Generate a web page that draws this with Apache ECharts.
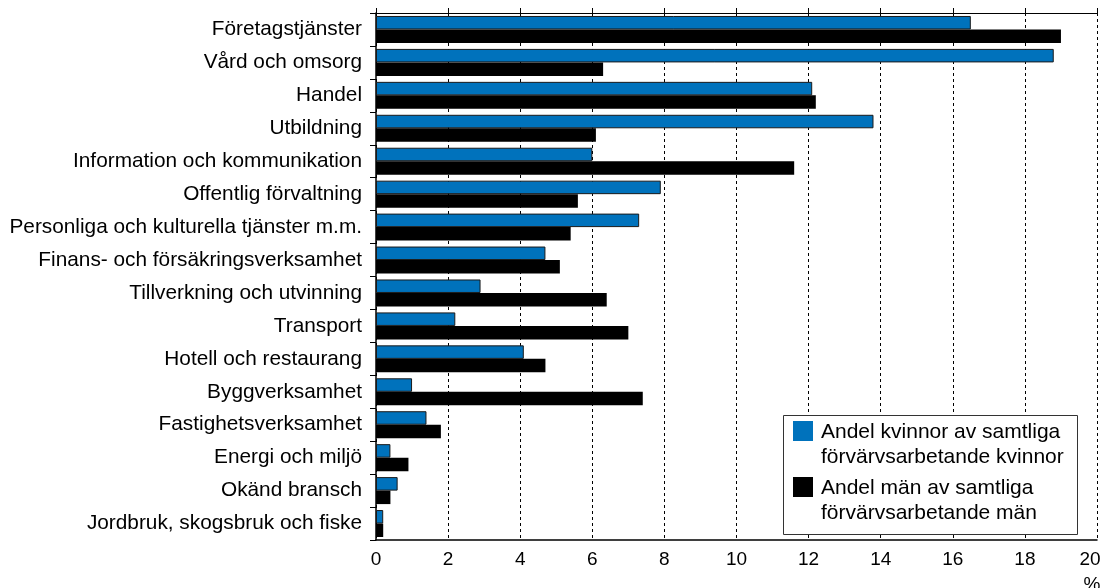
<!DOCTYPE html>
<html>
<head>
<meta charset="utf-8">
<script src="https://cdn.jsdelivr.net/npm/echarts@6/dist/echarts.min.js"></script>
<style>
  html, body { margin: 0; padding: 0; background: #fff; }
  #chart { width: 1104px; height: 588px; }
</style>
</head>
<body>
<div id="chart"></div>
<script>
// Branscher, ordnade uppifrån och ned
const categories = [
  'Företagstjänster',
  'Vård och omsorg',
  'Handel',
  'Utbildning',
  'Information och kommunikation',
  'Offentlig förvaltning',
  'Personliga och kulturella tjänster m.m.',
  'Finans- och försäkringsverksamhet',
  'Tillverkning och utvinning',
  'Transport',
  'Hotell och restaurang',
  'Byggverksamhet',
  'Fastighetsverksamhet',
  'Energi och miljö',
  'Okänd bransch',
  'Jordbruk, skogsbruk och fiske'
];

// Andel (%) av samtliga förvärvsarbetande kvinnor respektive män
const women = [16.5, 18.8, 12.1, 13.8, 6.0, 7.9, 7.3, 4.7, 2.9, 2.2, 4.1, 1.0, 1.4, 0.4, 0.6, 0.2];
const men   = [19.0, 6.3, 12.2, 6.1, 11.6, 5.6, 5.4, 5.1, 6.4, 7.0, 4.7, 7.4, 1.8, 0.9, 0.4, 0.2];

const seriesNames = [
  ['Andel kvinnor av samtliga', 'förvärvsarbetande kvinnor'],
  ['Andel män av samtliga', 'förvärvsarbetande män']
];
const axisUnit = '%';
const axisMax = 20;

const BLUE = '#0072bc';
const FONT = 'Liberation Sans, Arial, sans-serif';
const LABEL_SIZE = 20.8;
const LEGEND_SIZE = 21;

const chart = echarts.init(document.getElementById('chart'));

// Legend box drawn as graphic elements so each two-line entry sits beside its swatch
const legendGraphic = [
  { type: 'rect', shape: { x: 783.5, y: 415.5, width: 294, height: 119 },
    style: { fill: '#fff', stroke: '#333', lineWidth: 1 }, z: 100 },
  { type: 'rect', shape: { x: 793, y: 421, width: 20, height: 20 },
    style: { fill: BLUE }, z: 101 },
  { type: 'text', x: 821, y: 420,
    style: { text: seriesNames[0].join('\n'), fill: '#000', font: LEGEND_SIZE + 'px ' + FONT, lineHeight: 25 }, z: 101 },
  { type: 'rect', shape: { x: 793, y: 477, width: 20, height: 20 },
    style: { fill: '#000' }, z: 101 },
  { type: 'text', x: 821, y: 476,
    style: { text: seriesNames[1].join('\n'), fill: '#000', font: LEGEND_SIZE + 'px ' + FONT, lineHeight: 25 }, z: 101 },
  { type: 'text', x: 1092, y: 575,
    style: { text: axisUnit, fill: '#000', font: '19px ' + FONT, align: 'center' }, z: 101 }
];

chart.setOption({
  animation: false,
  backgroundColor: '#fff',
  textStyle: { fontFamily: FONT },
  grid: { left: 376, right: 7, top: 13, bottom: 48, containLabel: false, outerBoundsMode: 'none' },
  xAxis: [
    {
      type: 'value', position: 'bottom', min: 0, max: axisMax, interval: 2,
      axisLine: { show: true, lineStyle: { color: '#000', width: 1.5 } },
      axisTick: { show: false },
      axisLabel: {
        color: '#000', fontSize: 19, margin: 10, fontFamily: FONT,
        // keep the last label inside the canvas
        formatter: v => v === axisMax ? '{last|' + v + '}' : String(v),
        rich: { last: { fontSize: 19, fontFamily: FONT, color: '#000', padding: [0, 14, 0, 0] } }
      },
      splitLine: { show: true, lineStyle: { color: '#000', type: [3, 3], width: 1 } }
    },
    {
      type: 'value', position: 'top', min: 0, max: axisMax, interval: 2,
      axisLine: { show: true, lineStyle: { color: '#000', width: 1 } },
      axisTick: { show: true, length: 5, lineStyle: { color: '#000' } },
      axisLabel: { show: false },
      splitLine: { show: false }
    }
  ],
  yAxis: {
    type: 'category', data: categories, inverse: true,
    axisLine: { show: true, lineStyle: { color: '#000', width: 1.5 } },
    axisTick: { show: true, length: 6, lineStyle: { color: '#000' } },
    axisLabel: { color: '#000', fontSize: LABEL_SIZE, margin: 14, fontFamily: FONT }
  },
  series: [
    {
      name: seriesNames[0].join(' '), type: 'bar', data: women,
      barWidth: 13.5, barGap: '0%',
      itemStyle: { color: BLUE, borderColor: '#1a1a1a', borderWidth: 1 }
    },
    {
      name: seriesNames[1].join(' '), type: 'bar', data: men,
      barWidth: 13.5, barGap: '0%',
      itemStyle: { color: '#000', borderColor: '#000', borderWidth: 0 }
    }
  ],
  graphic: legendGraphic
});
</script>
</body>
</html>
